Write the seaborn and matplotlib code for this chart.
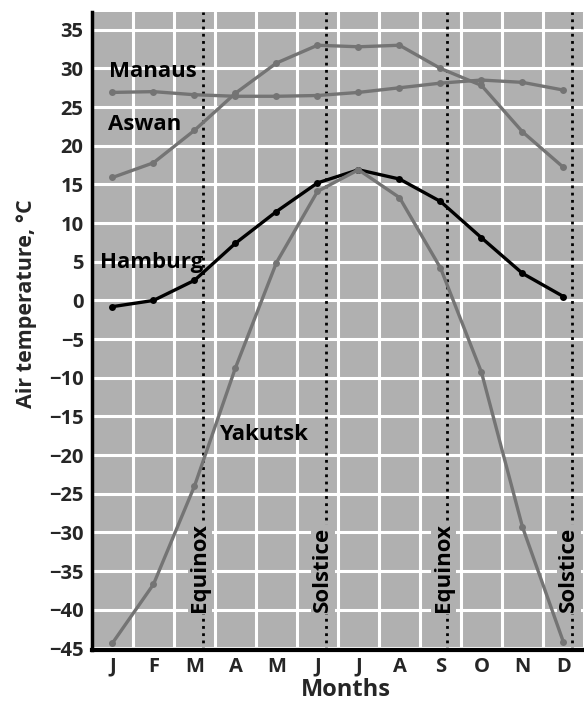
import matplotlib
matplotlib.use("Agg")
import matplotlib.pyplot as plt
import seaborn as sns
import pandas as pd
import numpy as np

months = ["J", "F", "M", "A", "M", "J", "J", "A", "S", "O", "N", "D"]
month_pos = list(range(1, 13))

manaus = [26.9, 27.0, 26.6, 26.4, 26.4, 26.5, 26.9, 27.5, 28.1, 28.5, 28.2, 27.2]
aswan = [15.9, 17.8, 22.0, 26.8, 30.7, 33.0, 32.8, 33.0, 30.0, 27.8, 21.8, 17.2]
hamburg = [-0.8, 0.0, 2.6, 7.4, 11.5, 15.2, 16.9, 15.7, 12.8, 8.1, 3.5, 0.5]
yakutsk = [-44.3, -36.7, -24.0, -8.7, 4.9, 14.1, 16.9, 13.3, 4.2, -9.3, -29.3, -44.2]

cities = ["Manaus", "Aswan", "Hamburg", "Yakutsk"]
events = ["Equinox", "Solstice", "Equinox", "Solstice"]
event_pos = [3.2, 6.2, 9.15, 12.2]
yticks = list(range(-45, 36, 5))

df = pd.DataFrame({
    "month": month_pos * 4,
    "temp": manaus + aswan + hamburg + yakutsk,
    "city": sum([[c] * 12 for c in cities], []),
})

sns.set_theme(style="white")
plt.rcParams["font.family"] = ["Open Sans", "DejaVu Sans"]

bg = "#b0b0b0"
fig = plt.figure(figsize=(5.84, 7.05), dpi=100)
ax = fig.add_axes([0.1575, 0.078, 0.8425, 0.905])
ax.set_facecolor(bg)

palette = {"Manaus": "#747474", "Aswan": "#747474", "Hamburg": "#000000", "Yakutsk": "#747474"}
sns.lineplot(data=df, x="month", y="temp", hue="city", palette=palette,
             marker="o", markersize=5, markeredgewidth=0, linewidth=2.4,
             legend=False, ax=ax, zorder=4)

ax.set_xlim(0.62, 12.33)
ax.set_ylim(-45.2, 37.3)

# grid
ax.set_xticks(month_pos)
ax.set_xticks([m + 0.5 for m in range(0, 13)], minor=True)
ax.set_yticks(yticks)
ax.grid(False)
ax.grid(True, which="minor", axis="x", color="white", linewidth=2.2, zorder=1)
ax.grid(True, which="major", axis="y", color="white", linewidth=2.2, zorder=1)
ax.set_axisbelow(True)

ax.set_xticklabels(months, fontsize=14.5, fontweight="bold")
ax.set_yticklabels([str(t).replace("-", "\u2212") for t in yticks], fontsize=14.5, fontweight="bold")
ax.tick_params(axis="y", direction="in", length=7, width=2, color="black", pad=6)
ax.tick_params(axis="x", which="both", length=0, pad=5)

for s in ["top", "right"]:
    ax.spines[s].set_visible(False)
ax.spines["left"].set_color("black")
ax.spines["left"].set_linewidth(2.5)
ax.spines["bottom"].set_color("black")
ax.spines["bottom"].set_linewidth(3)
ax.set_xlabel("")
ax.set_ylabel("")

for name, pos in zip(events, event_pos):
    ax.axvline(pos, color="black", linestyle=(0, (1, 1.6)), linewidth=2, zorder=2)
    ax.text(pos - 0.07, -40.3, name, rotation=90, ha="center", va="bottom",
            fontsize=16, fontweight="bold", color="black", zorder=3,
            bbox=dict(boxstyle="square,pad=0.08", facecolor=bg, edgecolor="none"))

label_pos = {"Manaus": (0.92, 29.6), "Aswan": (0.88, 22.7), "Hamburg": (0.7, 4.9), "Yakutsk": (3.6, -17.3)}
for c in cities:
    x, y = label_pos[c]
    ax.text(x, y, c, ha="left", va="center", fontsize=16, fontweight="bold", color="black", zorder=5)

fig.text(27 / 584, 1 - 304 / 705, "Air temperature, \u00b0C", rotation=90, ha="center", va="center",
         fontsize=15.5, fontweight="bold")
fig.text(346 / 584, 1 - 690 / 705, "Months", ha="center", va="center", fontsize=17, fontweight="bold")

fig.savefig("out.png", dpi=100)
